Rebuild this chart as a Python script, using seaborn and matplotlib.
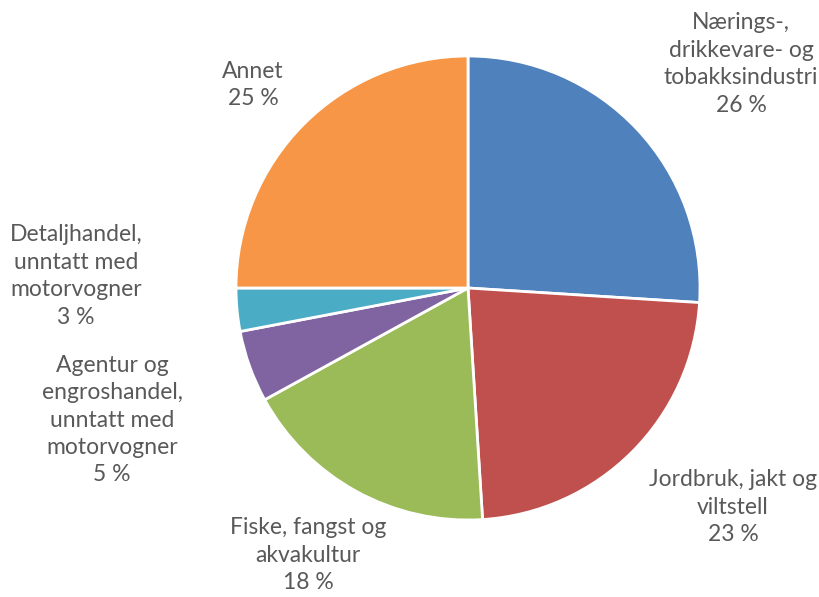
import matplotlib
matplotlib.use("Agg")
import matplotlib.pyplot as plt
import seaborn as sns

sns.set_theme(style="white")
plt.rcParams["font.family"] = ["Lato", "DejaVu Sans"]

# ── DATA ─────────────────────────────────────────────────────────────────────
categories = [
    "Nærings-,\ndrikkevare- og\ntobakksindustri",
    "Jordbruk, jakt og\nviltstell",
    "Fiske, fangst og\nakvakultur",
    "Agentur og\nengroshandel,\nunntatt med\nmotorvogner",
    "Detaljhandel,\nunntatt med\nmotorvogner",
    "Annet",
]
shares = [26, 23, 18, 5, 3, 25]

COLORS = ["#4F81BD", "#C0504D", "#9BBB59", "#8064A2", "#4BACC6", "#F79646"]
TEXT = "#595959"

# label anchor points in pie-radius units (centre of each text block)
label_pos = [(1.177, 0.966), (1.142, -0.944), (-0.690, -1.151),
             (-1.534, -0.569), (-1.690, 0.052), (-0.927, 0.875)]

# ── CHART ────────────────────────────────────────────────────────────────────
fig = plt.figure(figsize=(8.19, 5.97), dpi=100)
ax = fig.add_axes([0, 0, 1, 1])

ax.pie(shares, colors=COLORS, startangle=90, counterclock=False,
       radius=1, wedgeprops={"edgecolor": "white", "linewidth": 2})

for name, val, (x, y) in zip(categories, shares, label_pos):
    ax.text(x, y, f"{name}\n{val} %", ha="center", va="center",
            fontsize=16.5, color=TEXT, linespacing=1.38)

# 232 px per radius, centre at (468, 288) px
r = 232
ax.set_xlim(-468 / r, (819 - 468) / r)
ax.set_ylim(-(597 - 288) / r, 288 / r)
ax.set_aspect("auto")
ax.axis("off")

fig.savefig("out.png", dpi=100)
